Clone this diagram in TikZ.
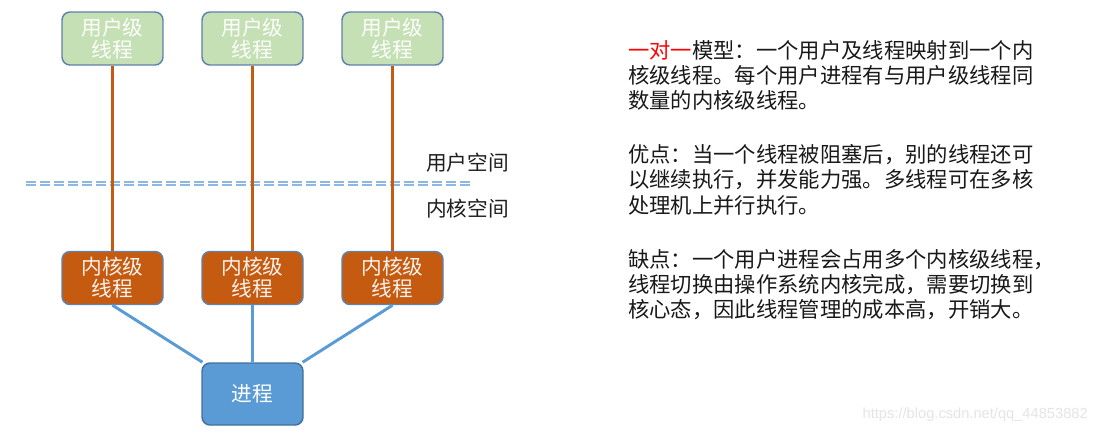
\documentclass[tikz,border=0pt]{standalone}
\usepackage{fontspec}
\newfontfamily\cjk{Noto Sans CJK SC}
\newfontfamily\wmfont{Liberation Sans}
\definecolor{ugreen}{HTML}{C5E0B4}
\definecolor{bborder}{HTML}{5F82AE}
\definecolor{korange}{HTML}{C55A11}
\definecolor{pblue}{HTML}{5B9BD5}
\definecolor{pborder}{HTML}{41719C}
\definecolor{dashblue}{HTML}{8EB8E2}
\definecolor{redtxt}{HTML}{FF0000}
\begin{document}
\begin{tikzpicture}[x=0.75pt,y=-0.75pt,
  boxbase/.style={draw=bborder, line width=1.1pt, rounded corners=6pt, align=center, inner sep=0pt,
    minimum width=75.75pt, minimum height=39.75pt, font=\cjk\fontsize{15.5pt}{16.5pt}\selectfont},
  ubox/.style={boxbase, fill=ugreen, text=white!96!ugreen},
  kbox/.style={boxbase, fill=korange, text=white!92!korange},
  pbox/.style={boxbase, fill=pblue, draw=pborder, text=white, minimum height=46.5pt},
  oline/.style={draw=korange, line width=2.2pt},
  bline/.style={draw=pblue, line width=2.2pt},
  dline/.style={draw=dashblue, line width=1.5pt, dash pattern=on 7.5pt off 3pt},
  lbl/.style={font=\cjk\fontsize{15.5pt}{18pt}\selectfont, text=black!88, inner sep=0pt, anchor=east},
  para/.style={font=\cjk\fontsize{16pt}{18.75pt}\selectfont, text=black!90, inner sep=0pt, anchor=west},
  wm/.style={font=\wmfont\fontsize{11pt}{13pt}\selectfont, text=black!10, inner sep=0pt, anchor=east}
]
\useasboundingbox[fill=white] (0,0) rectangle (1098,433);

% user-level threads
\node[ubox] (u1) at (112.5,38.5) {用户级\\线程};
\node[ubox] (u2) at (252.5,38.5) {用户级\\线程};
\node[ubox] (u3) at (392.5,38.5) {用户级\\线程};

% kernel-level threads
\node[kbox] (k1) at (112.5,278) {内核级\\线程};
\node[kbox] (k2) at (252.5,278) {内核级\\线程};
\node[kbox] (k3) at (392.5,278) {内核级\\线程};

% process
\node[pbox] (p) at (252.5,394) {进程};

% dashed boundary
\coordinate (dl1) at (26,181.5);
\coordinate (dr1) at (473,181.5);
\coordinate (dl2) at (26,185);
\coordinate (dr2) at (473,185);
\draw[dline] (dl1) -- (dr1);
\draw[dline] (dl2) -- (dr2);

% connectors
\draw[oline] (u1) -- (k1);
\draw[oline] (u2) -- (k2);
\draw[oline] (u3) -- (k3);
\draw[bline] (k1.south) -- (p);
\draw[bline] (k2.south) -- (p.north);
\draw[bline] (k3.south) -- (p);

% space labels
\node[lbl] (us) at (509,163) {用户空间};
\node[lbl] (ks) at (509,209) {内核空间};

% description
\node[para] (t1) at (628,50) {\textcolor{redtxt}{一对一}模型：一个用户及线程映射到一个内};
\node[para] (t2) at (628,75) {核级线程。每个用户进程有与用户级线程同};
\node[para] (t3) at (628,100) {数量的内核级线程。};
\node[para] (t4) at (628,155) {优点：当一个线程被阻塞后，别的线程还可};
\node[para] (t5) at (628,180) {以继续执行，并发能力强。多线程可在多核};
\node[para] (t6) at (628,205) {处理机上并行执行。};
\node[para] (t7) at (628,260) {缺点：一个用户进程会占用多个内核级线程，};
\node[para] (t8) at (628,285) {线程切换由操作系统内核完成，需要切换到};
\node[para] (t9) at (628,310) {核心态，因此线程管理的成本高，开销大。};

% watermark
\node[wm] (w) at (1088,415) {https://blog.csdn.net/qq\_44853882};
\end{tikzpicture}
\end{document}
